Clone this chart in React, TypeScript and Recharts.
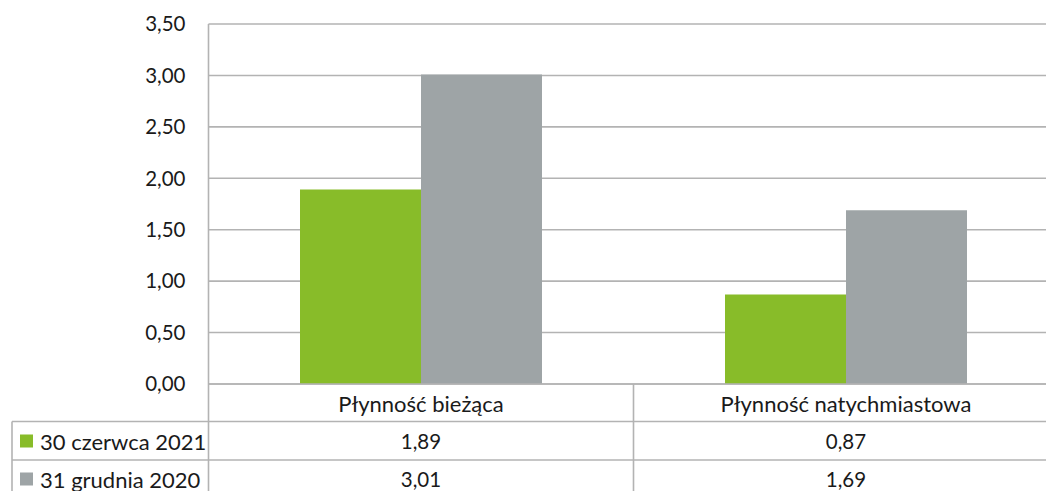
import React from 'react';
import { BarChart, Bar, XAxis, YAxis, CartesianGrid } from 'recharts';

const categories = ['Płynność bieżąca', 'Płynność natychmiastowa'];
const seriesNames = ['30 czerwca 2021', '31 grudnia 2020'];
const june2021 = [1.89, 0.87];
const dec2020 = [3.01, 1.69];
const yTicks = [0, 0.5, 1, 1.5, 2, 2.5, 3, 3.5];
const seriesColors = ['#88BC29', '#9EA4A6'];

const seriesValues = [june2021, dec2020];
const data = categories.map((c, i) => ({ name: c, s0: june2021[i], s1: dec2020[i] }));

const fmt = (v: number) => v.toFixed(2).replace('.', ',');

const FONT = 'Lato, "Open Sans", sans-serif';
const TEXT_SIZE = 22;
const NUM_SIZE = 20.5;
const TEXT_COLOR = '#1a1a1a';
const LINE = '#b3b3b3';
const LINE_W = 1.6;

const CHART_W = 1080;
const CHART_H = 491;
const TOP = 24;
const X_AXIS_H = 107;
const PLOT_BOTTOM = CHART_H - X_AXIS_H;
const LEFT = 208.5;
const RIGHT_MARGIN = 21.5;
const COL_W = (CHART_W - RIGHT_MARGIN - LEFT) / categories.length;
const ROW_LINES = [421.5, 460];
const HEADER_CENTER = 403;
const ROW_CENTERS = [441, 479];
const TABLE_LEFT = 12;

const TableTick = (props: any) => {
  const { x, payload } = props;
  const i = payload.index;
  const x0 = x - COL_W / 2;
  const x1 = x + COL_W / 2;
  return (
    <g>
      <text x={x} y={HEADER_CENTER} textAnchor="middle" dominantBaseline="central"
        fontFamily={FONT} fontSize={TEXT_SIZE} fill={TEXT_COLOR}>{categories[i]}</text>
      {seriesValues.map((vals, s) => (
        <text key={s} x={x} y={ROW_CENTERS[s]} textAnchor="middle" dominantBaseline="central"
          fontFamily={FONT} fontSize={NUM_SIZE} fill={TEXT_COLOR}>{fmt(vals[i])}</text>
      ))}
      {ROW_LINES.map((ry, k) => (
        <line key={k} x1={x0} x2={x1} y1={ry} y2={ry} stroke={LINE} strokeWidth={LINE_W} />
      ))}
      {i === 0 && <line x1={x0} x2={x0} y1={PLOT_BOTTOM} y2={CHART_H} stroke={LINE} strokeWidth={LINE_W} />}
      <line x1={x1} x2={x1} y1={PLOT_BOTTOM} y2={CHART_H} stroke={LINE} strokeWidth={LINE_W} />
    </g>
  );
};

export default function App() {
  return (
    <div style={{ position: 'fixed', left: 0, top: 0, width: 1046, height: 491, overflow: 'hidden', background: '#fff' }}>
      <div style={{ position: 'absolute', left: 0, top: 0 }}>
        <BarChart width={CHART_W} height={CHART_H} data={data}
          margin={{ top: TOP, right: RIGHT_MARGIN, bottom: 0, left: 0 }}
          barCategoryGap={91.5} barGap={0}>
          <CartesianGrid vertical={false} stroke={LINE} strokeWidth={LINE_W} />
          <YAxis domain={[0, 3.5]} ticks={yTicks} width={LEFT} tickFormatter={fmt}
            axisLine={{ stroke: LINE, strokeWidth: LINE_W }} tickLine={false} tickSize={0} tickMargin={23}
            tick={{ fontFamily: FONT, fontSize: NUM_SIZE, fill: TEXT_COLOR }} interval={0} />
          <XAxis dataKey="name" height={X_AXIS_H} axisLine={{ stroke: LINE, strokeWidth: LINE_W }}
            tickLine={false} tick={<TableTick />} interval={0} />
          {seriesNames.map((n, s) => (
            <Bar key={n} dataKey={`s${s}`} name={n} fill={seriesColors[s]} isAnimationActive={false} />
          ))}
        </BarChart>
      </div>
      <svg style={{ position: 'absolute', left: 0, top: 0 }} width={LEFT + 1} height={CHART_H}>
        {ROW_LINES.map((ry, k) => (
          <line key={k} x1={TABLE_LEFT} x2={LEFT} y1={ry} y2={ry} stroke={LINE} strokeWidth={LINE_W} />
        ))}
        <line x1={TABLE_LEFT} x2={TABLE_LEFT} y1={ROW_LINES[0]} y2={CHART_H} stroke={LINE} strokeWidth={LINE_W} />
        {seriesNames.map((n, s) => (
          <g key={n}>
            <rect x={20} y={ROW_CENTERS[s] - 6.5} width={13} height={13} fill={seriesColors[s]} />
            <text x={40} y={ROW_CENTERS[s]} dominantBaseline="central" fontFamily={FONT}
              fontSize={TEXT_SIZE} fill={TEXT_COLOR}>{n}</text>
          </g>
        ))}
      </svg>
    </div>
  );
}
